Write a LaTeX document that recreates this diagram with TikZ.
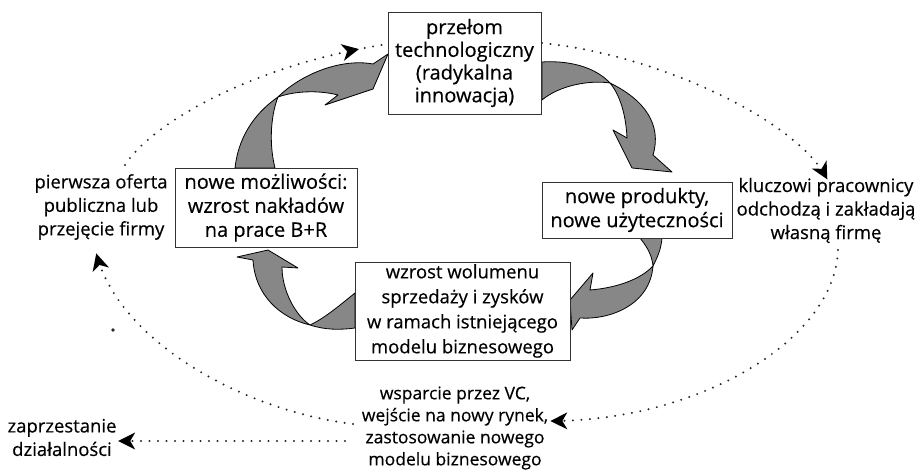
\documentclass[tikz,border=0pt]{standalone}
\usepackage{fontspec}
\setmainfont{Open Sans}[FakeBold=0.35]
\usetikzlibrary{decorations.markings}
\begin{document}
\begin{tikzpicture}[x=1pt,y=-1pt,
  txt/.style={inner sep=0pt, align=center, font=\fontsize{18.5}{23.5}\selectfont},
  box/.style={txt, draw=black!80, line width=0.9pt, fill=white, font=\fontsize{20}{22.7}\selectfont},
  dotline/.style={line width=2.2pt, dash pattern=on 0pt off 8.5pt, line cap=round, draw=black!85},
  tipmark/.style={postaction={decorate}, decoration={markings,
     mark=at position #1 with {\fill[black] (3,0) -- (-14,8.5) -- (-9,0) -- (-14,-8.5) -- cycle;}}},
  ribbon/.style={fill=black!47, draw=black, line width=0.8pt, line join=round}
]
\useasboundingbox (0,0) rectangle (917,470);

% ribbon arrows (behind the boxes)
% left box -> top box
\filldraw[ribbon] (235,168) .. controls (238,140) and (252,115) .. (278,97)
  .. controls (272,112) and (268,140) .. (275,168) -- cycle;
\filldraw[ribbon] (278,97) .. controls (300,75) and (340,58) .. (373,64)
  -- (388,54) -- (373,89) -- (325,105) -- (338,95)
  .. controls (318,90) and (295,91) .. (278,97) -- cycle;
% top box -> right box
\filldraw[ribbon] (542,62) .. controls (575,60) and (598,70) .. (610,83)
  .. controls (590,80) and (560,85) .. (542,100) -- cycle;
\filldraw[ribbon] (610,83) .. controls (645,100) and (662,125) .. (653,155)
  -- (672,172) -- (632,168) -- (613,130) -- (627,138)
  .. controls (626,115) and (620,95) .. (610,83) -- cycle;
% right box -> bottom box
\filldraw[ribbon] (640,238) .. controls (648,248) and (652,256) .. (653,266)
  .. controls (657,258) and (661,250) .. (662,238) -- cycle;
\filldraw[ribbon] (653,266) .. controls (640,280) and (615,288) .. (590,290)
  -- (593,273) -- (570,300) -- (572,330) -- (580,318)
  .. controls (610,320) and (650,305) .. (653,266) -- cycle;
% bottom box -> left box
\filldraw[ribbon] (355,293) .. controls (340,305) and (325,318) .. (310,325)
  .. controls (325,330) and (340,330) .. (355,328) -- cycle;
\filldraw[ribbon] (310,325) .. controls (280,318) and (255,295) .. (253,260)
  -- (237,257) -- (268,250) -- (298,268) -- (282,267)
  .. controls (282,290) and (295,315) .. (310,325) -- cycle;

% boxes
\node[box, minimum width=153pt, minimum height=102pt] (top) at (464.5,63)
  {przełom\\technologiczny\\(radykalna\\innowacja)};
\node[box, minimum width=182pt, minimum height=79pt, font=\fontsize{20}{24}\selectfont] (lft) at (266,207.5)
  {nowe możliwości:\\wzrost nakładów\\na prace B+R};
\node[box, minimum width=190pt, minimum height=56pt, font=\fontsize{20}{24}\selectfont] (rgt) at (637,210)
  {nowe produkty,\\nowe użyteczności};
\node[box, minimum width=215pt, minimum height=98pt, font=\fontsize{18.5}{25}\selectfont] (bot) at (462.5,311)
  {wzrost wolumenu\\sprzedaży i zysków\\w ramach istniejącego\\modelu biznesowego};

% free labels
\node[txt] (ipo) at (101,207) {pierwsza oferta\\publiczna lub\\przejęcie firmy};
\node[txt] (key) at (826,210.5) {kluczowi pracownicy\\odchodzą i zakładają\\własną firmę};
\node[txt, font=\fontsize{17.5}{22}\selectfont] (vc) at (455,428) {wsparcie przez VC,\\wejście na nowy rynek,\\zastosowanie nowego\\modelu biznesowego};
\node[txt] (stop) at (62,437.5) {zaprzestanie\\działalności};

% dotted connectors
\coordinate (a1) at (125,165);
\coordinate (a2) at (388,44);
\coordinate (b1) at (542,43);
\coordinate (b2) at (826,177);
\coordinate (c1) at (838,250);
\coordinate (c2) at (553,421);
\coordinate (d1) at (353,424);
\coordinate (d2) at (97,256);
\coordinate (e1) at (345,441);
\coordinate (e2) at (121,441);

\draw[dotline, tipmark=0.89] (a1) .. controls (150,125) and (250,65) .. (a2);
\draw[dotline, tipmark=0.999] (b1) .. controls (660,55) and (795,120) .. (b2);
\draw[dotline, tipmark=0.999] (c1) .. controls (835,340) and (700,420) .. (c2);
\draw[dotline, tipmark=0.999] (d1) .. controls (240,410) and (120,340) .. (d2);
\draw[dotline, tipmark=0.999] (e1) -- (e2);
\fill[black!85] (113,330) circle (1.8pt);
\end{tikzpicture}
\end{document}
